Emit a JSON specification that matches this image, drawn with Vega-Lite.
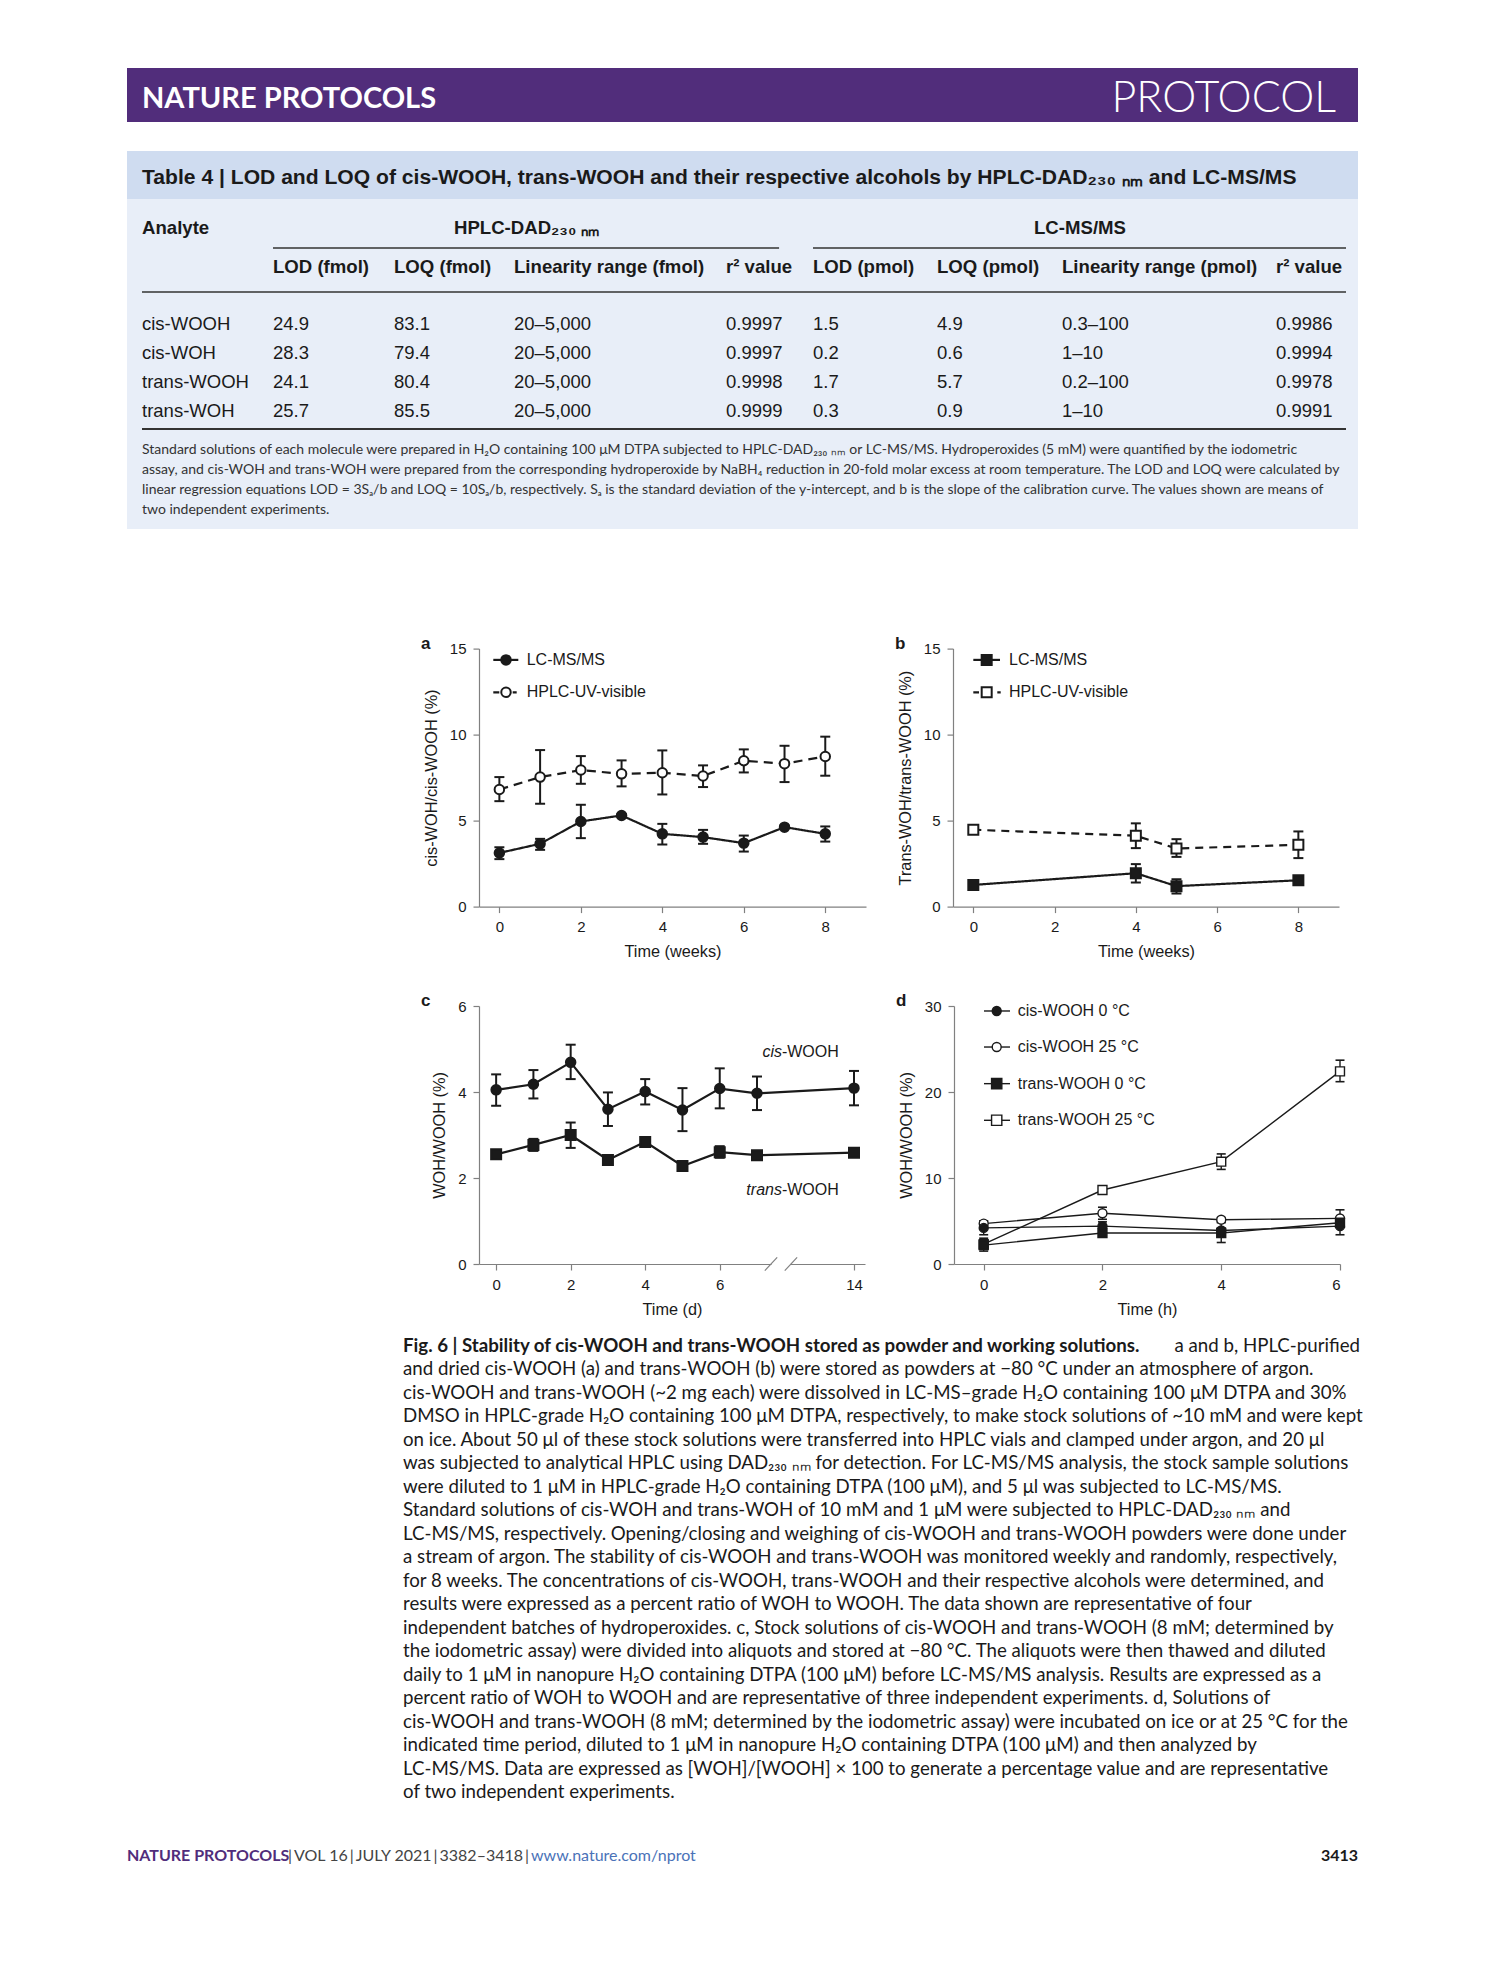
{
 "$schema": "https://vega.github.io/schema/vega-lite/v6.json",
 "background": "white",
 "padding": {"left": 127, "top": 68, "right": 10, "bottom": 10},
 "config": {
  "view": {"stroke": null},
  "axis": {"domainColor": "#808080", "domainWidth": 1.2, "tickColor": "#808080", "tickWidth": 1.2, "tickSize": 6, "labelFont": "Liberation Sans", "labelFontSize": 15, "labelColor": "#1a1a1a", "labelPadding": 7, "titleFont": "Liberation Sans", "titleFontSize": 16.3, "titleFontWeight": "normal", "titleColor": "#1a1a1a", "grid": false},
  "axisX": {"titlePadding": 9, "labelFontSize": 15},
  "axisY": {"titlePadding": 10, "labelFontSize": 15}
 },
 "datasets": {
  "pa": [
   {"s": "LC-MS/MS", "t": 0, "y": 3.12, "lo": 2.76, "hi": 3.45},
   {"s": "LC-MS/MS", "t": 1, "y": 3.65, "lo": 3.30, "hi": 3.94},
   {"s": "LC-MS/MS", "t": 2, "y": 4.95, "lo": 3.98, "hi": 5.92},
   {"s": "LC-MS/MS", "t": 3, "y": 5.30, "lo": 5.22, "hi": 5.38},
   {"s": "LC-MS/MS", "t": 4, "y": 4.23, "lo": 3.61, "hi": 4.81},
   {"s": "LC-MS/MS", "t": 5, "y": 4.04, "lo": 3.65, "hi": 4.46},
   {"s": "LC-MS/MS", "t": 6, "y": 3.69, "lo": 3.20, "hi": 4.13},
   {"s": "LC-MS/MS", "t": 7, "y": 4.62, "lo": 4.55, "hi": 4.70},
   {"s": "LC-MS/MS", "t": 8, "y": 4.23, "lo": 3.78, "hi": 4.66},
   {"s": "HPLC-UV-visible", "t": 0, "y": 6.81, "lo": 6.13, "hi": 7.53},
   {"s": "HPLC-UV-visible", "t": 1, "y": 7.53, "lo": 5.98, "hi": 9.10},
   {"s": "HPLC-UV-visible", "t": 2, "y": 7.94, "lo": 7.14, "hi": 8.75},
   {"s": "HPLC-UV-visible", "t": 3, "y": 7.72, "lo": 6.99, "hi": 8.50},
   {"s": "HPLC-UV-visible", "t": 4, "y": 7.78, "lo": 6.52, "hi": 9.08},
   {"s": "HPLC-UV-visible", "t": 5, "y": 7.59, "lo": 6.95, "hi": 8.21},
   {"s": "HPLC-UV-visible", "t": 6, "y": 8.48, "lo": 7.80, "hi": 9.14},
   {"s": "HPLC-UV-visible", "t": 7, "y": 8.31, "lo": 7.24, "hi": 9.35},
   {"s": "HPLC-UV-visible", "t": 8, "y": 8.73, "lo": 7.61, "hi": 9.88}
  ],
  "pb": [
   {"s": "LC-MS/MS", "t": 0, "y": 1.26, "lo": 1.18, "hi": 1.34},
   {"s": "LC-MS/MS", "t": 4, "y": 1.94, "lo": 1.40, "hi": 2.47},
   {"s": "LC-MS/MS", "t": 5, "y": 1.19, "lo": 0.76, "hi": 1.59},
   {"s": "LC-MS/MS", "t": 8, "y": 1.53, "lo": 1.46, "hi": 1.60},
   {"s": "HPLC-UV-visible", "t": 0, "y": 4.47, "lo": 4.40, "hi": 4.54},
   {"s": "HPLC-UV-visible", "t": 4, "y": 4.12, "lo": 3.40, "hi": 4.84},
   {"s": "HPLC-UV-visible", "t": 5, "y": 3.38, "lo": 2.89, "hi": 3.92},
   {"s": "HPLC-UV-visible", "t": 8, "y": 3.59, "lo": 2.82, "hi": 4.37}
  ],
  "pc": [
   {"s": "cis-WOOH", "t": 0, "y": 4.05, "lo": 3.68, "hi": 4.41},
   {"s": "cis-WOOH", "t": 1, "y": 4.18, "lo": 3.85, "hi": 4.51},
   {"s": "cis-WOOH", "t": 2, "y": 4.69, "lo": 4.30, "hi": 5.10},
   {"s": "cis-WOOH", "t": 3, "y": 3.60, "lo": 3.21, "hi": 3.99},
   {"s": "cis-WOOH", "t": 4, "y": 4.01, "lo": 3.71, "hi": 4.30},
   {"s": "cis-WOOH", "t": 5, "y": 3.58, "lo": 3.09, "hi": 4.09},
   {"s": "cis-WOOH", "t": 6, "y": 4.08, "lo": 3.62, "hi": 4.55},
   {"s": "cis-WOOH", "t": 7, "y": 3.97, "lo": 3.58, "hi": 4.36},
   {"s": "cis-WOOH", "t": 14, "y": 4.09, "lo": 3.69, "hi": 4.49},
   {"s": "trans-WOOH", "t": 0, "y": 2.55, "lo": 2.50, "hi": 2.60},
   {"s": "trans-WOOH", "t": 1, "y": 2.77, "lo": 2.63, "hi": 2.91},
   {"s": "trans-WOOH", "t": 2, "y": 3.00, "lo": 2.70, "hi": 3.29},
   {"s": "trans-WOOH", "t": 3, "y": 2.42, "lo": 2.37, "hi": 2.47},
   {"s": "trans-WOOH", "t": 4, "y": 2.84, "lo": 2.79, "hi": 2.89},
   {"s": "trans-WOOH", "t": 5, "y": 2.28, "lo": 2.23, "hi": 2.33},
   {"s": "trans-WOOH", "t": 6, "y": 2.60, "lo": 2.47, "hi": 2.74},
   {"s": "trans-WOOH", "t": 7, "y": 2.53, "lo": 2.48, "hi": 2.58},
   {"s": "trans-WOOH", "t": 14, "y": 2.59, "lo": 2.54, "hi": 2.64}
  ],
  "pd": [
   {"s": "cis-WOOH 25 °C", "t": 0, "y": 4.7, "lo": 4.4, "hi": 5.0},
   {"s": "cis-WOOH 25 °C", "t": 2, "y": 5.9, "lo": 5.2, "hi": 6.6},
   {"s": "cis-WOOH 25 °C", "t": 4, "y": 5.15, "lo": 4.9, "hi": 5.4},
   {"s": "cis-WOOH 25 °C", "t": 6, "y": 5.3, "lo": 4.4, "hi": 6.3},
   {"s": "trans-WOOH 25 °C", "t": 0, "y": 2.3, "lo": 2.1, "hi": 2.5},
   {"s": "trans-WOOH 25 °C", "t": 2, "y": 8.6, "lo": 8.4, "hi": 8.8},
   {"s": "trans-WOOH 25 °C", "t": 4, "y": 11.9, "lo": 11.0, "hi": 12.8},
   {"s": "trans-WOOH 25 °C", "t": 6, "y": 22.4, "lo": 21.2, "hi": 23.7},
   {"s": "trans-WOOH 0 °C", "t": 0, "y": 2.2, "lo": 1.5, "hi": 3.0},
   {"s": "trans-WOOH 0 °C", "t": 2, "y": 3.6, "lo": 3.2, "hi": 4.0},
   {"s": "trans-WOOH 0 °C", "t": 4, "y": 3.6, "lo": 2.5, "hi": 4.8},
   {"s": "trans-WOOH 0 °C", "t": 6, "y": 4.8, "lo": 4.6, "hi": 5.0},
   {"s": "cis-WOOH 0 °C", "t": 0, "y": 4.2, "lo": 3.4, "hi": 5.0},
   {"s": "cis-WOOH 0 °C", "t": 2, "y": 4.4, "lo": 3.9, "hi": 4.9},
   {"s": "cis-WOOH 0 °C", "t": 4, "y": 3.9, "lo": 3.6, "hi": 4.2},
   {"s": "cis-WOOH 0 °C", "t": 6, "y": 4.4, "lo": 3.4, "hi": 5.4}
  ],
  "tbl": [
   {"analyte": "cis-WOOH", "lod_f": "24.9", "loq_f": "83.1", "lin_f": "20–5,000", "r2_f": "0.9997", "lod_p": "1.5", "loq_p": "4.9", "lin_p": "0.3–100", "r2_p": "0.9986"},
   {"analyte": "cis-WOH", "lod_f": "28.3", "loq_f": "79.4", "lin_f": "20–5,000", "r2_f": "0.9997", "lod_p": "0.2", "loq_p": "0.6", "lin_p": "1–10", "r2_p": "0.9994"},
   {"analyte": "trans-WOOH", "lod_f": "24.1", "loq_f": "80.4", "lin_f": "20–5,000", "r2_f": "0.9998", "lod_p": "1.7", "loq_p": "5.7", "lin_p": "0.2–100", "r2_p": "0.9978"},
   {"analyte": "trans-WOH", "lod_f": "25.7", "loq_f": "85.5", "lin_f": "20–5,000", "r2_f": "0.9999", "lod_p": "0.3", "loq_p": "0.9", "lin_p": "1–10", "r2_p": "0.9991"}
  ],
  "cols": [
   {"key": "analyte", "label": "Analyte", "c": 0, "hr": 3},
   {"key": "lod_f", "label": "LOD (fmol)", "c": 1, "hr": 5},
   {"key": "loq_f", "label": "LOQ (fmol)", "c": 2, "hr": 5},
   {"key": "lin_f", "label": "Linearity range (fmol)", "c": 3, "hr": 5},
   {"key": "r2_f", "label": "r² value", "c": 4, "hr": 5},
   {"key": "lod_p", "label": "LOD (pmol)", "c": 5, "hr": 5},
   {"key": "loq_p", "label": "LOQ (pmol)", "c": 6, "hr": 5},
   {"key": "lin_p", "label": "Linearity range (pmol)", "c": 7, "hr": 5},
   {"key": "r2_p", "label": "r² value", "c": 8, "hr": 5}
  ],
  "foot": [
   {"line": 1, "t": "Standard solutions of each molecule were prepared in H₂O containing 100 μM DTPA subjected to HPLC-DAD₂₃₀ ₙₘ or LC-MS/MS. Hydroperoxides (5 mM) were quantified by the iodometric"},
   {"line": 2, "t": "assay, and cis-WOH and trans-WOH were prepared from the corresponding hydroperoxide by NaBH₄ reduction in 20-fold molar excess at room temperature. The LOD and LOQ were calculated by"},
   {"line": 3, "t": "linear regression equations LOD = 3Sₐ/b and LOQ = 10Sₐ/b, respectively. Sₐ is the standard deviation of the y-intercept, and b is the slope of the calibration curve. The values shown are means of"},
   {"line": 4, "t": "two independent experiments."}
  ],
  "cap": [
   {"line": 1, "part": "bold", "t": "Fig. 6 | Stability of cis-WOOH and trans-WOOH stored as powder and working solutions."},
   {"line": 1, "part": "tail", "t": "a and b, HPLC-purified"},
   {"line": 2, "part": "text", "t": "and dried cis-WOOH (a) and trans-WOOH (b) were stored as powders at −80 °C under an atmosphere of argon."},
   {"line": 3, "part": "text", "t": "cis-WOOH and trans-WOOH (~2 mg each) were dissolved in LC-MS–grade H₂O containing 100 μM DTPA and 30%"},
   {"line": 4, "part": "text", "t": "DMSO in HPLC-grade H₂O containing 100 μM DTPA, respectively, to make stock solutions of ~10 mM and were kept"},
   {"line": 5, "part": "text", "t": "on ice. About 50 μl of these stock solutions were transferred into HPLC vials and clamped under argon, and 20 μl"},
   {"line": 6, "part": "text", "t": "was subjected to analytical HPLC using DAD₂₃₀ ₙₘ for detection. For LC-MS/MS analysis, the stock sample solutions"},
   {"line": 7, "part": "text", "t": "were diluted to 1 μM in HPLC-grade H₂O containing DTPA (100 μM), and 5 μl was subjected to LC-MS/MS."},
   {"line": 8, "part": "text", "t": "Standard solutions of cis-WOH and trans-WOH of 10 mM and 1 μM were subjected to HPLC-DAD₂₃₀ ₙₘ and"},
   {"line": 9, "part": "text", "t": "LC-MS/MS, respectively. Opening/closing and weighing of cis-WOOH and trans-WOOH powders were done under"},
   {"line": 10, "part": "text", "t": "a stream of argon. The stability of cis-WOOH and trans-WOOH was monitored weekly and randomly, respectively,"},
   {"line": 11, "part": "text", "t": "for 8 weeks. The concentrations of cis-WOOH, trans-WOOH and their respective alcohols were determined, and"},
   {"line": 12, "part": "text", "t": "results were expressed as a percent ratio of WOH to WOOH. The data shown are representative of four"},
   {"line": 13, "part": "text", "t": "independent batches of hydroperoxides. c, Stock solutions of cis-WOOH and trans-WOOH (8 mM; determined by"},
   {"line": 14, "part": "text", "t": "the iodometric assay) were divided into aliquots and stored at −80 °C. The aliquots were then thawed and diluted"},
   {"line": 15, "part": "text", "t": "daily to 1 μM in nanopure H₂O containing DTPA (100 μM) before LC-MS/MS analysis. Results are expressed as a"},
   {"line": 16, "part": "text", "t": "percent ratio of WOH to WOOH and are representative of three independent experiments. d, Solutions of"},
   {"line": 17, "part": "text", "t": "cis-WOOH and trans-WOOH (8 mM; determined by the iodometric assay) were incubated on ice or at 25 °C for the"},
   {"line": 18, "part": "text", "t": "indicated time period, diluted to 1 μM in nanopure H₂O containing DTPA (100 μM) and then analyzed by"},
   {"line": 19, "part": "text", "t": "LC-MS/MS. Data are expressed as [WOH]/[WOOH] × 100 to generate a percentage value and are representative"},
   {"line": 20, "part": "text", "t": "of two independent experiments."}
  ]
 },
 "spacing": 29,
 "resolve": {"scale": {"shape": "independent", "fill": "independent", "strokeDash": "independent", "size": "independent"}},
 "vconcat": [
  {
   "width": 1231, "height": 54,
   "view": {"fill": "#512d7b"},
   "data": {"values": [{"side": "left", "t": "NATURE PROTOCOLS"}, {"side": "right", "t": "PROTOCOL"}]},
   "layer": [
    {"transform": [{"filter": "datum.side === 'left'"}], "mark": {"type": "text", "align": "left", "baseline": "middle", "dy": 4, "font": "Lato", "fontSize": 29, "fontWeight": "bold", "color": "white"}, "encoding": {"x": {"field": "side", "type": "nominal", "scale": {"type": "point", "domain": ["left", "right"], "range": [15, 1209], "padding": 0}, "axis": null}, "text": {"field": "t"}}},
    {"transform": [{"filter": "datum.side === 'right'"}], "mark": {"type": "text", "align": "right", "baseline": "middle", "dy": 4, "font": "Lato", "fontSize": 43, "fontWeight": 300, "color": "white"}, "encoding": {"x": {"field": "side", "type": "nominal", "scale": {"type": "point", "domain": ["left", "right"], "range": [15, 1209], "padding": 0}, "axis": null}, "text": {"field": "t"}}}
   ]
  },
  {
   "spacing": 105.6,
   "resolve": {"scale": {"shape": "independent", "fill": "independent", "strokeDash": "independent", "size": "independent"}},
   "vconcat": [
    {
     "width": 1231, "height": 378,
     "view": {"fill": "#e8eef8"},
     "resolve": {"scale": {"y": "independent"}},
     "layer": [
      {"data": {"values": [{"part": "title band"}]}, "mark": {"type": "rect", "color": "#cfdcf0"}, "encoding": {"x": {"datum": -1, "scale": {"domain": [-1,0,1,2,3,4,5,6,7,8,9,10], "range": [0,15,146,267,387,599,686,810,935,1149,1219,1231], "nice": false, "zero": false}, "axis": null}, "x2": {"datum": 10}, "y": {"datum": 0, "scale": {"domain": [0,1,2,3,4,5,6,7], "range": [0,27,48,77,97,116,141,278], "nice": false, "zero": false}, "axis": null}, "y2": {"datum": 2}}},
      {"data": {"values": [{"t": "Table 4 | LOD and LOQ of cis-WOOH, trans-WOOH and their respective alcohols by HPLC-DAD₂₃₀ ₙₘ and LC-MS/MS"}]}, "mark": {"type": "text", "align": "left", "baseline": "middle", "font": "Liberation Sans", "fontSize": 21.1, "fontWeight": "bold", "color": "#1a1a1a"}, "encoding": {"x": {"datum": 0, "scale": {"domain": [-1,0,1,2,3,4,5,6,7,8,9,10], "range": [0,15,146,267,387,599,686,810,935,1149,1219,1231], "nice": false, "zero": false}, "axis": null}, "y": {"datum": 1, "scale": {"domain": [0,1,2,3,4,5,6,7], "range": [0,27,48,77,97,116,141,278], "nice": false, "zero": false}, "axis": null}, "text": {"field": "t"}}},
      {"data": {"name": "cols"}, "mark": {"type": "text", "align": "left", "baseline": "middle", "font": "Liberation Sans", "fontSize": 18.6, "fontWeight": "bold", "color": "#1a1a1a"}, "encoding": {"x": {"field": "c", "type": "quantitative", "scale": {"domain": [-1,0,1,2,3,4,5,6,7,8,9,10], "range": [0,15,146,267,387,599,686,810,935,1149,1219,1231], "nice": false, "zero": false}, "axis": null}, "y": {"field": "hr", "type": "quantitative", "scale": {"domain": [0,1,2,3,4,5,6,7], "range": [0,27,48,77,97,116,141,278], "nice": false, "zero": false}, "axis": null}, "text": {"field": "label"}}},
      {"data": {"values": [{"t": "HPLC-DAD₂₃₀ ₙₘ"}]}, "mark": {"type": "text", "align": "center", "baseline": "middle", "font": "Liberation Sans", "fontSize": 18.6, "fontWeight": "bold", "color": "#1a1a1a"}, "encoding": {"x": {"datum": 3.06, "scale": {"domain": [-1,0,1,2,3,4,5,6,7,8,9,10], "range": [0,15,146,267,387,599,686,810,935,1149,1219,1231], "nice": false, "zero": false}, "axis": null}, "y": {"datum": 3, "scale": {"domain": [0,1,2,3,4,5,6,7], "range": [0,27,48,77,97,116,141,278], "nice": false, "zero": false}, "axis": null}, "text": {"field": "t"}}},
      {"data": {"values": [{"t": "LC-MS/MS"}]}, "mark": {"type": "text", "align": "center", "baseline": "middle", "font": "Liberation Sans", "fontSize": 18.6, "fontWeight": "bold", "color": "#1a1a1a"}, "encoding": {"x": {"datum": 7.084, "scale": {"domain": [-1,0,1,2,3,4,5,6,7,8,9,10], "range": [0,15,146,267,387,599,686,810,935,1149,1219,1231], "nice": false, "zero": false}, "axis": null}, "y": {"datum": 3, "scale": {"domain": [0,1,2,3,4,5,6,7], "range": [0,27,48,77,97,116,141,278], "nice": false, "zero": false}, "axis": null}, "text": {"field": "t"}}},
      {"data": {"values": [{"rule": "HPLC group"}]}, "mark": {"type": "rule", "color": "#333333", "strokeWidth": 1.3}, "encoding": {"x": {"datum": 1, "scale": {"domain": [-1,0,1,2,3,4,5,6,7,8,9,10], "range": [0,15,146,267,387,599,686,810,935,1149,1219,1231], "nice": false, "zero": false}, "axis": null}, "x2": {"datum": 4.61}, "y": {"datum": 4, "scale": {"domain": [0,1,2,3,4,5,6,7], "range": [0,27,48,77,97,116,141,278], "nice": false, "zero": false}, "axis": null}}},
      {"data": {"values": [{"rule": "LC group"}]}, "mark": {"type": "rule", "color": "#333333", "strokeWidth": 1.3}, "encoding": {"x": {"datum": 5, "scale": {"domain": [-1,0,1,2,3,4,5,6,7,8,9,10], "range": [0,15,146,267,387,599,686,810,935,1149,1219,1231], "nice": false, "zero": false}, "axis": null}, "x2": {"datum": 9}, "y": {"datum": 4, "scale": {"domain": [0,1,2,3,4,5,6,7], "range": [0,27,48,77,97,116,141,278], "nice": false, "zero": false}, "axis": null}}},
      {"data": {"values": [{"rule": "header"}]}, "mark": {"type": "rule", "color": "#333333", "strokeWidth": 1.3}, "encoding": {"x": {"datum": 0, "scale": {"domain": [-1,0,1,2,3,4,5,6,7,8,9,10], "range": [0,15,146,267,387,599,686,810,935,1149,1219,1231], "nice": false, "zero": false}, "axis": null}, "x2": {"datum": 9}, "y": {"datum": 6, "scale": {"domain": [0,1,2,3,4,5,6,7], "range": [0,27,48,77,97,116,141,278], "nice": false, "zero": false}, "axis": null}}},
      {"data": {"values": [{"rule": "bottom"}]}, "mark": {"type": "rule", "color": "#333333", "strokeWidth": 2}, "encoding": {"x": {"datum": 0, "scale": {"domain": [-1,0,1,2,3,4,5,6,7,8,9,10], "range": [0,15,146,267,387,599,686,810,935,1149,1219,1231], "nice": false, "zero": false}, "axis": null}, "x2": {"datum": 9}, "y": {"datum": 7, "scale": {"domain": [0,1,2,3,4,5,6,7], "range": [0,27,48,77,97,116,141,278], "nice": false, "zero": false}, "axis": null}}},
      {"data": {"name": "tbl"}, "transform": [{"fold": ["analyte", "lod_f", "loq_f", "lin_f", "r2_f", "lod_p", "loq_p", "lin_p", "r2_p"], "as": ["key", "value"]}, {"lookup": "key", "from": {"data": {"name": "cols"}, "key": "key", "fields": ["c"]}}], "mark": {"type": "text", "align": "left", "baseline": "middle", "font": "Liberation Sans", "fontSize": 18.5, "color": "#1a1a1a"}, "encoding": {"x": {"field": "c", "type": "quantitative", "scale": {"domain": [-1,0,1,2,3,4,5,6,7,8,9,10], "range": [0,15,146,267,387,599,686,810,935,1149,1219,1231], "nice": false, "zero": false}, "axis": null}, "y": {"field": "analyte", "type": "nominal", "sort": null, "scale": {"type": "point", "range": [173, 260], "padding": 0}, "axis": null}, "text": {"field": "value"}}},
      {"data": {"name": "foot"}, "mark": {"type": "text", "align": "left", "baseline": "middle", "font": "Lato", "fontSize": 14, "color": "#333333"}, "encoding": {"x": {"datum": 0, "scale": {"domain": [-1,0,1,2,3,4,5,6,7,8,9,10], "range": [0,15,146,267,387,599,686,810,935,1149,1219,1231], "nice": false, "zero": false}, "axis": null}, "y": {"field": "line", "type": "ordinal", "scale": {"type": "point", "range": [299, 359], "padding": 0}, "axis": null}, "text": {"field": "t"}}}
     ]
    },
    {
     "spacing": 15.3,
     "resolve": {"scale": {"shape": "independent", "fill": "independent", "strokeDash": "independent", "size": "independent"}},
     "vconcat": [
      {
       "spacing": 0,
       "resolve": {"scale": {"shape": "independent", "fill": "independent", "strokeDash": "independent", "size": "independent"}},
       "hconcat": [
        {"data": {"values": []}, "mark": "point", "width": 294, "height": 1},
        {
         "spacing": 31.4,
         "resolve": {"scale": {"shape": "independent", "fill": "independent", "strokeDash": "independent", "size": "independent"}},
         "vconcat": [
          {
           "spacing": 29,
           "resolve": {"scale": {"shape": "independent", "fill": "independent", "strokeDash": "independent", "size": "independent"}},
           "hconcat": [
            {
             "width": 387, "height": 258,
             "title": {"text": "a", "anchor": "start", "frame": "group", "font": "Liberation Sans", "fontSize": 17, "fontWeight": "bold", "color": "#1a1a1a", "baseline": "alphabetic", "offset": 0, "dx": -58, "dy": 24},
             "data": {"name": "pa"},
             "encoding": {"x": {"field": "t", "type": "quantitative", "scale": {"domain": [-0.5, 9], "nice": false, "zero": false}, "axis": {"values": [0, 2, 4, 6, 8], "title": "Time (weeks)", "labelFontSize": 15}}},
             "layer": [
              {"mark": {"type": "rule", "color": "#1a1a1a", "strokeWidth": 2}, "encoding": {"y": {"field": "lo", "type": "quantitative", "scale": {"domain": [0, 15], "nice": false}, "axis": {"values": [0, 5, 10, 15], "title": "cis-WOH/cis-WOOH (%)", "labelFontSize": 15}}, "y2": {"field": "hi"}}},
              {"mark": {"type": "tick", "orient": "horizontal", "thickness": 2, "color": "#1a1a1a", "opacity": 1}, "encoding": {"y": {"field": "lo", "type": "quantitative"}, "size": {"value": 10}}},
              {"mark": {"type": "tick", "orient": "horizontal", "thickness": 2, "color": "#1a1a1a", "opacity": 1}, "encoding": {"y": {"field": "hi", "type": "quantitative"}, "size": {"value": 10}}},
              {"mark": {"type": "line", "color": "#1a1a1a", "strokeWidth": 2.2}, "encoding": {"y": {"field": "y", "type": "quantitative"}, "strokeDash": {"field": "s", "type": "nominal", "scale": {"domain": ["LC-MS/MS", "HPLC-UV-visible"], "range": [[1, 0], [9, 6]]}, "legend": null}}},
              {"mark": {"type": "point", "filled": true, "opacity": 1, "size": 90, "stroke": "#1a1a1a", "strokeWidth": 2}, "encoding": {"y": {"field": "y", "type": "quantitative"}, "shape": {"field": "s", "type": "nominal", "scale": {"domain": ["LC-MS/MS", "HPLC-UV-visible"], "range": ["circle", "circle"]}, "legend": null}, "fill": {"field": "s", "type": "nominal", "scale": {"domain": ["LC-MS/MS", "HPLC-UV-visible"], "range": ["#1a1a1a", "#ffffff"]}, "legend": null}}},
              {"transform": [{"filter": "datum.s === 'LC-MS/MS' && datum.t === 0"}], "encoding": {"y": {"datum": 14.343, "type": "quantitative"}}, "layer": [
                {"mark": {"type": "rule", "color": "#1a1a1a", "strokeWidth": 2.2}, "encoding": {"x": {"datum": -0.149, "type": "quantitative"}, "x2": {"datum": 0.465}}},
                {"mark": {"type": "point", "shape": "circle", "filled": true, "fill": "#1a1a1a", "stroke": "#1a1a1a", "strokeWidth": 2, "size": 90, "opacity": 1}, "encoding": {"x": {"datum": 0.163, "type": "quantitative"}}},
                {"mark": {"type": "text", "align": "left", "baseline": "middle", "font": "Liberation Sans", "fontSize": 16, "color": "#1a1a1a"}, "encoding": {"x": {"datum": 0.671, "type": "quantitative"}, "text": {"field": "s"}}}
              ]},
              {"transform": [{"filter": "datum.s === 'HPLC-UV-visible' && datum.t === 0"}], "encoding": {"y": {"datum": 12.459, "type": "quantitative"}}, "layer": [
                {"mark": {"type": "rule", "color": "#1a1a1a", "strokeWidth": 2.2, "strokeDash": [6, 13.4, 4, 30]}, "encoding": {"x": {"datum": -0.149, "type": "quantitative"}, "x2": {"datum": 0.425}}},
                {"mark": {"type": "point", "shape": "circle", "filled": true, "fill": "#ffffff", "stroke": "#1a1a1a", "strokeWidth": 2, "size": 90, "opacity": 1}, "encoding": {"x": {"datum": 0.163, "type": "quantitative"}}},
                {"mark": {"type": "text", "align": "left", "baseline": "middle", "font": "Liberation Sans", "fontSize": 16, "color": "#1a1a1a"}, "encoding": {"x": {"datum": 0.671, "type": "quantitative"}, "text": {"field": "s"}}}
              ]}
             ]
            },
            {
             "width": 386, "height": 258,
             "title": {"text": "b", "anchor": "start", "frame": "group", "font": "Liberation Sans", "fontSize": 17, "fontWeight": "bold", "color": "#1a1a1a", "baseline": "alphabetic", "offset": 0, "dx": -58, "dy": 24},
             "data": {"name": "pb"},
             "encoding": {"x": {"field": "t", "type": "quantitative", "scale": {"domain": [-0.5, 9], "nice": false, "zero": false}, "axis": {"values": [0, 2, 4, 6, 8], "title": "Time (weeks)", "labelFontSize": 15}}},
             "layer": [
              {"mark": {"type": "rule", "color": "#1a1a1a", "strokeWidth": 2}, "encoding": {"y": {"field": "lo", "type": "quantitative", "scale": {"domain": [0, 15], "nice": false}, "axis": {"values": [0, 5, 10, 15], "title": "Trans-WOH/trans-WOOH (%)", "labelFontSize": 15}}, "y2": {"field": "hi"}}},
              {"mark": {"type": "tick", "orient": "horizontal", "thickness": 2, "color": "#1a1a1a", "opacity": 1}, "encoding": {"y": {"field": "lo", "type": "quantitative"}, "size": {"value": 10}}},
              {"mark": {"type": "tick", "orient": "horizontal", "thickness": 2, "color": "#1a1a1a", "opacity": 1}, "encoding": {"y": {"field": "hi", "type": "quantitative"}, "size": {"value": 10}}},
              {"mark": {"type": "line", "color": "#1a1a1a", "strokeWidth": 2.2}, "encoding": {"y": {"field": "y", "type": "quantitative"}, "strokeDash": {"field": "s", "type": "nominal", "scale": {"domain": ["LC-MS/MS", "HPLC-UV-visible"], "range": [[1, 0], [8, 6]]}, "legend": null}}},
              {"mark": {"type": "point", "filled": true, "opacity": 1, "size": 100, "stroke": "#1a1a1a", "strokeWidth": 2}, "encoding": {"y": {"field": "y", "type": "quantitative"}, "shape": {"field": "s", "type": "nominal", "scale": {"domain": ["LC-MS/MS", "HPLC-UV-visible"], "range": ["square", "square"]}, "legend": null}, "fill": {"field": "s", "type": "nominal", "scale": {"domain": ["LC-MS/MS", "HPLC-UV-visible"], "range": ["#1a1a1a", "#ffffff"]}, "legend": null}}},
              {"transform": [{"filter": "datum.s === 'LC-MS/MS' && datum.t === 0"}], "encoding": {"y": {"datum": 14.343, "type": "quantitative"}}, "layer": [
                {"mark": {"type": "rule", "color": "#1a1a1a", "strokeWidth": 2.2}, "encoding": {"x": {"datum": 0.0, "type": "quantitative"}, "x2": {"datum": 0.657}}},
                {"mark": {"type": "point", "shape": "square", "filled": true, "fill": "#1a1a1a", "stroke": "#1a1a1a", "strokeWidth": 2, "size": 100, "opacity": 1}, "encoding": {"x": {"datum": 0.329, "type": "quantitative"}}},
                {"mark": {"type": "text", "align": "left", "baseline": "middle", "font": "Liberation Sans", "fontSize": 16, "color": "#1a1a1a"}, "encoding": {"x": {"datum": 0.878, "type": "quantitative"}, "text": {"field": "s"}}}
              ]},
              {"transform": [{"filter": "datum.s === 'HPLC-UV-visible' && datum.t === 0"}], "encoding": {"y": {"datum": 12.459, "type": "quantitative"}}, "layer": [
                {"mark": {"type": "rule", "color": "#1a1a1a", "strokeWidth": 2.2, "strokeDash": [5.7, 18.3, 3.4, 30]}, "encoding": {"x": {"datum": 0.0, "type": "quantitative"}, "x2": {"datum": 0.674}}},
                {"mark": {"type": "point", "shape": "square", "filled": true, "fill": "#ffffff", "stroke": "#1a1a1a", "strokeWidth": 2, "size": 100, "opacity": 1}, "encoding": {"x": {"datum": 0.329, "type": "quantitative"}}},
                {"mark": {"type": "text", "align": "left", "baseline": "middle", "font": "Liberation Sans", "fontSize": 16, "color": "#1a1a1a"}, "encoding": {"x": {"datum": 0.878, "type": "quantitative"}, "text": {"field": "s"}}}
              ]}
             ]
            }
           ]
          },
          {
           "spacing": 31,
           "resolve": {"scale": {"shape": "independent", "fill": "independent", "strokeDash": "independent", "size": "independent"}},
           "hconcat": [
            {
             "width": 386, "height": 258,
             "title": {"text": "c", "anchor": "start", "frame": "group", "font": "Liberation Sans", "fontSize": 17, "fontWeight": "bold", "color": "#1a1a1a", "baseline": "alphabetic", "offset": 0, "dx": -58, "dy": 24},
             "data": {"name": "pc"},
             "encoding": {"x": {"field": "t", "type": "quantitative", "scale": {"domain": [-0.46, 7, 14, 14.3], "range": [0, 278, 375, 386], "nice": false, "zero": false}, "axis": {"values": [0, 2, 4, 6, 14], "title": "Time (d)", "labelFontSize": 15}}},
             "layer": [
              {"mark": {"type": "rule", "color": "#1a1a1a", "strokeWidth": 2}, "encoding": {"y": {"field": "lo", "type": "quantitative", "scale": {"domain": [0, 6], "nice": false}, "axis": {"values": [0, 2, 4, 6], "title": "WOH/WOOH (%)", "labelFontSize": 15}}, "y2": {"field": "hi"}}},
              {"mark": {"type": "tick", "orient": "horizontal", "thickness": 2, "color": "#1a1a1a", "opacity": 1}, "encoding": {"y": {"field": "lo", "type": "quantitative"}, "size": {"value": 10}}},
              {"mark": {"type": "tick", "orient": "horizontal", "thickness": 2, "color": "#1a1a1a", "opacity": 1}, "encoding": {"y": {"field": "hi", "type": "quantitative"}, "size": {"value": 10}}},
              {"mark": {"type": "line", "color": "#1a1a1a", "strokeWidth": 2.2}, "encoding": {"y": {"field": "y", "type": "quantitative"}, "detail": {"field": "s", "type": "nominal"}}},
              {"mark": {"type": "point", "filled": true, "opacity": 1, "stroke": "#1a1a1a", "strokeWidth": 2, "fill": "#1a1a1a"}, "encoding": {"y": {"field": "y", "type": "quantitative"}, "size": {"field": "s", "type": "nominal", "scale": {"domain": ["cis-WOOH", "trans-WOOH"], "range": [90, 100]}, "legend": null}, "shape": {"field": "s", "type": "nominal", "scale": {"domain": ["cis-WOOH", "trans-WOOH"], "range": ["circle", "square"]}, "legend": null}}},
              {"transform": [{"filter": "datum.s === 'cis-WOOH' && datum.t === 14"}], "layer": [
                {"mark": {"type": "rect", "color": "white"}, "encoding": {"x": {"datum": 8.05, "type": "quantitative"}, "x2": {"datum": 9.4}, "y": {"datum": -0.06, "type": "quantitative"}, "y2": {"datum": 0.06}}},
                {"mark": {"type": "point", "shape": "M-0.95,1.03L0.95,-1.03", "size": 169, "filled": false, "stroke": "#808080", "strokeWidth": 1.2, "opacity": 1}, "encoding": {"x": {"datum": 8.01, "type": "quantitative"}, "y": {"datum": 0, "type": "quantitative"}}},
                {"mark": {"type": "point", "shape": "M-0.95,1.03L0.95,-1.03", "size": 169, "filled": false, "stroke": "#808080", "strokeWidth": 1.2, "opacity": 1}, "encoding": {"x": {"datum": 9.45, "type": "quantitative"}, "y": {"datum": 0, "type": "quantitative"}}},
                {"mark": {"type": "text", "align": "right", "baseline": "middle", "font": "Liberation Sans", "fontSize": 16, "fontStyle": "italic", "color": "#1a1a1a"}, "encoding": {"x": {"datum": 8.8, "type": "quantitative"}, "y": {"datum": 4.92, "type": "quantitative"}, "text": {"value": "cis"}}},
                {"mark": {"type": "text", "align": "left", "baseline": "middle", "font": "Liberation Sans", "fontSize": 16, "color": "#1a1a1a"}, "encoding": {"x": {"datum": 8.8, "type": "quantitative"}, "y": {"datum": 4.92, "type": "quantitative"}, "text": {"value": "-WOOH"}}},
                {"mark": {"type": "text", "align": "right", "baseline": "middle", "font": "Liberation Sans", "fontSize": 16, "fontStyle": "italic", "color": "#1a1a1a"}, "encoding": {"x": {"datum": 8.8, "type": "quantitative"}, "y": {"datum": 1.72, "type": "quantitative"}, "text": {"value": "trans"}}},
                {"mark": {"type": "text", "align": "left", "baseline": "middle", "font": "Liberation Sans", "fontSize": 16, "color": "#1a1a1a"}, "encoding": {"x": {"datum": 8.8, "type": "quantitative"}, "y": {"datum": 1.72, "type": "quantitative"}, "text": {"value": "-WOOH"}}}
              ]}
             ]
            },
            {
             "width": 386, "height": 258,
             "title": {"text": "d", "anchor": "start", "frame": "group", "font": "Liberation Sans", "fontSize": 17, "fontWeight": "bold", "color": "#1a1a1a", "baseline": "alphabetic", "offset": 0, "dx": -58, "dy": 24},
             "data": {"name": "pd"},
             "encoding": {"x": {"field": "t", "type": "quantitative", "scale": {"domain": [-0.5, 6], "nice": false, "zero": false}, "axis": {"values": [0, 2, 4, 6], "title": "Time (h)", "labelFontSize": 15}}},
             "layer": [
              {"mark": {"type": "rule", "color": "#1a1a1a", "strokeWidth": 1.4}, "encoding": {"y": {"field": "lo", "type": "quantitative", "scale": {"domain": [0, 30], "nice": false}, "axis": {"values": [0, 10, 20, 30], "title": "WOH/WOOH (%)", "labelFontSize": 15}}, "y2": {"field": "hi"}}},
              {"mark": {"type": "tick", "orient": "horizontal", "thickness": 1.6, "color": "#1a1a1a", "opacity": 1}, "encoding": {"y": {"field": "lo", "type": "quantitative"}, "size": {"value": 9}}},
              {"mark": {"type": "tick", "orient": "horizontal", "thickness": 1.6, "color": "#1a1a1a", "opacity": 1}, "encoding": {"y": {"field": "hi", "type": "quantitative"}, "size": {"value": 9}}},
              {"mark": {"type": "line", "color": "#1a1a1a", "strokeWidth": 1.4}, "encoding": {"y": {"field": "y", "type": "quantitative"}, "detail": {"field": "s", "type": "nominal"}}},
              {"mark": {"type": "point", "filled": true, "opacity": 1, "stroke": "#1a1a1a", "strokeWidth": 1.4}, "encoding": {"y": {"field": "y", "type": "quantitative"},
                "size": {"field": "s", "type": "nominal", "scale": {"domain": ["cis-WOOH 0 °C", "cis-WOOH 25 °C", "trans-WOOH 0 °C", "trans-WOOH 25 °C"], "range": [80, 80, 115, 105]}, "legend": null},
                "shape": {"field": "s", "type": "nominal", "scale": {"domain": ["cis-WOOH 0 °C", "cis-WOOH 25 °C", "trans-WOOH 0 °C", "trans-WOOH 25 °C"], "range": ["circle", "circle", "square", "square"]}, "legend": null},
                "fill": {"field": "s", "type": "nominal", "scale": {"domain": ["cis-WOOH 0 °C", "cis-WOOH 25 °C", "trans-WOOH 0 °C", "trans-WOOH 25 °C"], "range": ["#1a1a1a", "#ffffff", "#1a1a1a", "#ffffff"]}, "legend": null}}},
              {"transform": [{"filter": "datum.s === 'cis-WOOH 0 °C' && datum.t === 0"}], "encoding": {"y": {"datum": 29.42, "type": "quantitative"}}, "layer": [
                {"mark": {"type": "rule", "color": "#1a1a1a", "strokeWidth": 1.4}, "encoding": {"x": {"datum": 0.005, "type": "quantitative"}, "x2": {"datum": 0.443}}},
                {"mark": {"type": "point", "shape": "circle", "filled": true, "fill": "#1a1a1a", "stroke": "#1a1a1a", "strokeWidth": 1.4, "size": 80, "opacity": 1}, "encoding": {"x": {"datum": 0.219, "type": "quantitative"}}},
                {"mark": {"type": "text", "align": "left", "baseline": "middle", "font": "Liberation Sans", "fontSize": 16, "color": "#1a1a1a"}, "encoding": {"x": {"datum": 0.573, "type": "quantitative"}, "text": {"field": "s"}}}
              ]},
              {"transform": [{"filter": "datum.s === 'cis-WOOH 25 °C' && datum.t === 0"}], "encoding": {"y": {"datum": 25.23, "type": "quantitative"}}, "layer": [
                {"mark": {"type": "rule", "color": "#1a1a1a", "strokeWidth": 1.4}, "encoding": {"x": {"datum": 0.005, "type": "quantitative"}, "x2": {"datum": 0.443}}},
                {"mark": {"type": "point", "shape": "circle", "filled": true, "fill": "#ffffff", "stroke": "#1a1a1a", "strokeWidth": 1.4, "size": 80, "opacity": 1}, "encoding": {"x": {"datum": 0.219, "type": "quantitative"}}},
                {"mark": {"type": "text", "align": "left", "baseline": "middle", "font": "Liberation Sans", "fontSize": 16, "color": "#1a1a1a"}, "encoding": {"x": {"datum": 0.573, "type": "quantitative"}, "text": {"field": "s"}}}
              ]},
              {"transform": [{"filter": "datum.s === 'trans-WOOH 0 °C' && datum.t === 0"}], "encoding": {"y": {"datum": 20.97, "type": "quantitative"}}, "layer": [
                {"mark": {"type": "rule", "color": "#1a1a1a", "strokeWidth": 1.4}, "encoding": {"x": {"datum": 0.005, "type": "quantitative"}, "x2": {"datum": 0.443}}},
                {"mark": {"type": "point", "shape": "square", "filled": true, "fill": "#1a1a1a", "stroke": "#1a1a1a", "strokeWidth": 1.4, "size": 105, "opacity": 1}, "encoding": {"x": {"datum": 0.219, "type": "quantitative"}}},
                {"mark": {"type": "text", "align": "left", "baseline": "middle", "font": "Liberation Sans", "fontSize": 16, "color": "#1a1a1a"}, "encoding": {"x": {"datum": 0.573, "type": "quantitative"}, "text": {"field": "s"}}}
              ]},
              {"transform": [{"filter": "datum.s === 'trans-WOOH 25 °C' && datum.t === 0"}], "encoding": {"y": {"datum": 16.71, "type": "quantitative"}}, "layer": [
                {"mark": {"type": "rule", "color": "#1a1a1a", "strokeWidth": 1.4}, "encoding": {"x": {"datum": 0.005, "type": "quantitative"}, "x2": {"datum": 0.443}}},
                {"mark": {"type": "point", "shape": "square", "filled": true, "fill": "#ffffff", "stroke": "#1a1a1a", "strokeWidth": 1.4, "size": 105, "opacity": 1}, "encoding": {"x": {"datum": 0.219, "type": "quantitative"}}},
                {"mark": {"type": "text", "align": "left", "baseline": "middle", "font": "Liberation Sans", "fontSize": 16, "color": "#1a1a1a"}, "encoding": {"x": {"datum": 0.573, "type": "quantitative"}, "text": {"field": "s"}}}
              ]}
             ]
            }
           ]
          }
         ]
        }
       ]
      },
      {
       "spacing": 41,
       "vconcat": [
        {
         "spacing": 0,
         "hconcat": [
          {"data": {"values": []}, "mark": "point", "width": 276, "height": 1},
          {
           "width": 957, "height": 472,
           "data": {"name": "cap"},
           "encoding": {"y": {"field": "line", "type": "ordinal", "scale": {"type": "point", "range": [13, 459.5], "padding": 0}, "axis": null}},
           "layer": [
            {"transform": [{"filter": "datum.part === 'text'"}], "mark": {"type": "text", "align": "left", "baseline": "middle", "font": "Lato", "fontSize": 18.7, "color": "#1a1a1a"}, "encoding": {"x": {"datum": 0, "scale": {"domain": [0, 1], "range": [0, 957]}, "axis": null}, "text": {"field": "t"}}},
            {"transform": [{"filter": "datum.part === 'bold'"}], "mark": {"type": "text", "align": "left", "baseline": "middle", "font": "Lato", "fontSize": 18.7, "fontWeight": "bold", "color": "#1a1a1a"}, "encoding": {"x": {"datum": 0, "scale": {"domain": [0, 1], "range": [0, 957]}, "axis": null}, "text": {"field": "t"}}},
            {"transform": [{"filter": "datum.part === 'tail'"}], "mark": {"type": "text", "align": "right", "baseline": "middle", "font": "Lato", "fontSize": 18.7, "color": "#1a1a1a"}, "encoding": {"x": {"datum": 1, "scale": {"domain": [0, 1], "range": [0, 957]}, "axis": null}, "text": {"field": "t"}}}
           ]
          }
         ]
        },
        {
         "width": 1231, "height": 20,
         "data": {"values": [{"part": "journal", "t": "NATURE PROTOCOLS"}, {"part": "issue", "t": "\u2009|\u2009VOL 16\u2009|\u2009JULY 2021\u2009|\u20093382–3418\u2009|"}, {"part": "site", "t": "www.nature.com/nprot"}, {"part": "page", "t": "3413"}]},
         "layer": [
          {"transform": [{"filter": "datum.part === 'journal'"}], "mark": {"type": "text", "align": "left", "baseline": "middle", "font": "Lato", "fontSize": 16, "fontWeight": "bold", "color": "#512d7b"}, "encoding": {"x": {"datum": 0, "scale": {"domain": [0, 1, 2, 3], "range": [0, 161, 404, 1231]}, "axis": null}, "text": {"field": "t"}}},
          {"transform": [{"filter": "datum.part === 'issue'"}], "mark": {"type": "text", "align": "left", "baseline": "middle", "font": "Lato", "fontSize": 16, "color": "#444444"}, "encoding": {"x": {"datum": 1, "scale": {"domain": [0, 1, 2, 3], "range": [0, 161, 404, 1231]}, "axis": null}, "text": {"field": "t"}}},
          {"transform": [{"filter": "datum.part === 'site'"}], "mark": {"type": "text", "align": "left", "baseline": "middle", "font": "Lato", "fontSize": 16, "color": "#4a72b8"}, "encoding": {"x": {"datum": 2, "scale": {"domain": [0, 1, 2, 3], "range": [0, 161, 404, 1231]}, "axis": null}, "text": {"field": "t"}}},
          {"transform": [{"filter": "datum.part === 'page'"}], "mark": {"type": "text", "align": "right", "baseline": "middle", "font": "Lato", "fontSize": 16, "fontWeight": "bold", "color": "#1a1a1a"}, "encoding": {"x": {"datum": 3, "scale": {"domain": [0, 1, 2, 3], "range": [0, 161, 404, 1231]}, "axis": null}, "text": {"field": "t"}}}
         ]
        }
       ]
      }
     ]
    }
   ]
  }
 ]
}
